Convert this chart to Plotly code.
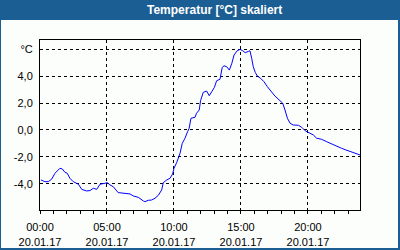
import plotly.graph_objects as go

times = ["00:04","00:22","00:37","00:52","01:07","01:29","01:40","01:52","02:02","02:14",
         "02:29","02:52","03:07","03:29","03:44","03:59","04:14","04:29","04:51","05:01",
         "05:13","05:28","05:50","06:13","06:43","06:58","07:20","07:43","07:50","08:05",
         "08:20","08:35","08:50","09:05","09:12","09:28","09:42","09:54","10:00","10:12",
         "10:27","10:37","10:49","11:01","11:08","11:16","11:34","11:41","11:53","11:59",
         "12:11","12:26","12:38","12:49","13:01","13:11","13:26","13:36","13:44","13:56",
         "14:08","14:19","14:29","14:43","14:56","15:08","15:19","15:34","15:40","15:48",
         "15:55","16:04","16:13","16:28","16:43","16:58","17:13","17:32","17:55","18:07",
         "18:17","18:28","18:40","18:54","19:17","19:32","19:47","20:06","20:24","20:39",
         "21:01","21:24","21:46","22:08","22:31","22:50","23:53"]
temps = [-3.70,-3.83,-3.83,-3.65,-3.21,-2.84,-2.89,-3.14,-3.21,-3.58,
         -3.83,-4.02,-4.40,-4.52,-4.49,-4.32,-4.40,-4.02,-3.95,-3.90,
         -4.07,-4.20,-4.64,-4.69,-4.74,-4.89,-4.99,-5.26,-5.31,-5.21,
         -5.19,-5.06,-4.84,-4.44,-3.90,-3.70,-3.58,-3.26,-2.84,-2.42,
         -1.73,-0.99,-0.62,-0.12,0.13,0.87,0.94,1.24,1.48,2.17,
         2.79,2.89,2.54,2.84,3.16,3.65,3.76,4.64,4.76,4.69,
         4.44,4.94,5.56,5.87,5.98,5.87,5.73,5.83,5.87,5.31,
         4.69,4.27,4.00,3.83,3.58,3.21,2.89,2.52,2.17,1.98,
         1.48,0.87,0.50,0.37,0.35,0.20,-0.05,-0.20,-0.37,-0.61,
         -0.69,-0.87,-1.04,-1.24,-1.36,-1.48,-1.85]

date = "2017-01-20"
y_tickvals = [-4, -2, 0, 2, 4, 6]
y_ticktext = ["-4,0", "-2,0", "0,0", "2,0", "4,0", "°C"]
title_text = "Temperatur [°C] skaliert"

BLUE = "#1b5e94"
BG = "#fcfefc"

fig = go.Figure()
fig.add_trace(go.Scatter(
    x=[f"{date} {t}" for t in times], y=temps, mode="lines",
    line=dict(color="#0000ff", width=1), hoverinfo="skip", showlegend=False))

# plot area is 320x170 px starting at (40,40)
def px_x(p):
    return (p - 40) / 320.0
def px_y(p):
    return 1 - (p - 40) / 170.0

fig.add_shape(type="rect", xref="paper", yref="paper",
              x0=px_x(1), x1=px_x(398), y0=px_y(248), y1=px_y(20),
              fillcolor=BG, line=dict(width=0), layer="below")

fig.add_annotation(text=f"<b>{title_text}</b>", xref="paper", yref="paper",
                   x=px_x(214), y=px_y(10.5), xanchor="center", yanchor="middle",
                   showarrow=False, font=dict(family="Liberation Sans", size=12, color="white"))

fig.update_layout(
    width=400, height=250,
    margin=dict(l=40, r=40, t=40, b=40),
    paper_bgcolor=BLUE, plot_bgcolor=BG,
    font=dict(family="Liberation Sans", size=11, color="black"),
    showlegend=False,
)
fig.update_xaxes(
    type="date", automargin=False,
    range=[f"{date} 00:00", f"{date} 23:53"],
    tick0=f"{date} 00:00", dtick=5 * 3600000,
    tickformat="%H:%M<br>%d.%m.%y",
    ticks="outside", ticklen=3, tickcolor="black", ticklabelstandoff=4,
    showline=True, mirror=True, linecolor="black", linewidth=1,
    showgrid=True, gridcolor="black", gridwidth=1, griddash="3px,3px",
    minor=dict(ticks="outside", dtick=3600000, ticklen=3, tickcolor="black", showgrid=False),
    zeroline=False, fixedrange=True,
)
fig.update_yaxes(
    range=[-5.93, 6.67], automargin=False,
    tickvals=y_tickvals, ticktext=y_ticktext,
    ticks="", ticklabelstandoff=4,
    showline=True, mirror=True, linecolor="black", linewidth=1,
    showgrid=True, gridcolor="black", gridwidth=1, griddash="3px,3px",
    zeroline=False, fixedrange=True,
)

fig.write_html("out.html", config={"displayModeBar": False})
